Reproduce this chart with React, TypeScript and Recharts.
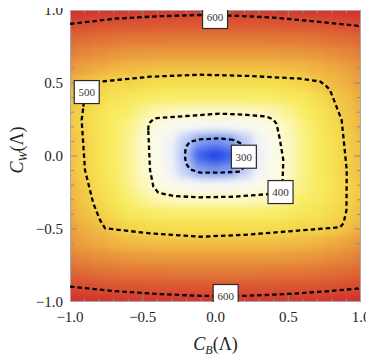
import React from 'react';
import { ScatterChart, Scatter, XAxis, YAxis } from 'recharts';

// Grid of the density field (x across, y down from +1 to -1)
const GRID_X = [-1, -0.9, -0.8, -0.7, -0.6, -0.5, -0.4, -0.3, -0.2, -0.1, 0, 0.1, 0.2, 0.3, 0.4, 0.5, 0.6, 0.7, 0.8, 0.9, 1];
const GRID_Y = [1, 0.9, 0.8, 0.7, 0.6, 0.5, 0.4, 0.3, 0.2, 0.1, 0, -0.1, -0.2, -0.3, -0.4, -0.5, -0.6, -0.7, -0.8, -0.9, -1];

const FIELD: number[][] = [
  [618, 615, 612, 611, 610, 609, 609, 609, 609, 609, 609, 609, 609, 609, 609, 609, 610, 611, 612, 615, 618],
  [597, 593, 591, 589, 588, 588, 587, 587, 587, 587, 587, 587, 587, 587, 587, 588, 588, 589, 591, 593, 597],
  [578, 574, 571, 569, 567, 566, 566, 565, 565, 565, 565, 565, 565, 565, 566, 566, 567, 569, 571, 574, 578],
  [561, 555, 551, 548, 545, 544, 543, 543, 543, 543, 543, 543, 543, 543, 543, 544, 545, 548, 551, 555, 561],
  [546, 538, 532, 527, 523, 521, 520, 519, 519, 519, 519, 519, 519, 519, 520, 521, 523, 527, 532, 538, 546],
  [528, 518, 509, 502, 502, 498, 494, 493, 492, 492, 492, 492, 492, 493, 494, 498, 502, 514, 521, 530, 540],
  [519, 507, 496, 481, 474, 463, 457, 454, 452, 452, 452, 452, 452, 454, 457, 463, 474, 493, 508, 519, 531],
  [515, 502, 485, 464, 451, 433, 420, 413, 410, 409, 409, 409, 410, 413, 420, 433, 451, 476, 497, 514, 527],
  [513, 499, 480, 456, 438, 415, 391, 368, 354, 348, 347, 348, 354, 368, 391, 415, 438, 468, 492, 511, 525],
  [519, 505, 484, 460, 435, 409, 377, 340, 300, 272, 266, 272, 300, 340, 377, 409, 435, 460, 484, 505, 519],
  [519, 505, 484, 460, 435, 409, 376, 336, 290, 240, 222, 240, 290, 336, 376, 409, 435, 460, 484, 505, 519],
  [519, 505, 484, 460, 435, 409, 377, 340, 300, 272, 266, 272, 300, 340, 377, 409, 435, 460, 484, 505, 519],
  [525, 511, 492, 468, 438, 415, 391, 368, 354, 348, 347, 348, 354, 368, 391, 415, 438, 456, 480, 499, 513],
  [527, 514, 497, 476, 451, 433, 420, 413, 410, 409, 409, 409, 410, 413, 420, 433, 451, 464, 485, 502, 515],
  [531, 519, 508, 493, 474, 463, 457, 454, 452, 452, 452, 452, 452, 454, 457, 463, 474, 481, 496, 507, 519],
  [540, 530, 521, 514, 502, 498, 494, 493, 492, 492, 492, 492, 492, 493, 494, 498, 502, 502, 509, 518, 528],
  [546, 538, 532, 527, 523, 521, 520, 519, 519, 519, 519, 519, 519, 519, 520, 521, 523, 527, 532, 538, 546],
  [561, 555, 551, 548, 545, 544, 543, 543, 543, 543, 543, 543, 543, 543, 543, 544, 545, 548, 551, 555, 561],
  [578, 574, 571, 569, 567, 566, 566, 565, 565, 565, 565, 565, 565, 565, 566, 566, 567, 569, 571, 574, 578],
  [597, 593, 591, 589, 588, 588, 587, 587, 587, 587, 587, 587, 587, 587, 587, 588, 588, 589, 591, 593, 597],
  [618, 615, 612, 611, 610, 609, 609, 609, 609, 609, 609, 609, 609, 609, 609, 609, 610, 611, 612, 615, 618],
];

// Contour lines
const CONTOUR_600_TOP = [
  { x: -1, y: 0.904 }, { x: -0.7, y: 0.94 }, { x: -0.4, y: 0.957 }, { x: -0.1, y: 0.966 },
  { x: 0.1, y: 0.962 }, { x: 0.4, y: 0.948 }, { x: 0.7, y: 0.92 }, { x: 1, y: 0.89 },
];
const CONTOUR_600_BOTTOM = [
  { x: -1, y: -0.895 }, { x: -0.7, y: -0.925 }, { x: -0.4, y: -0.945 }, { x: -0.1, y: -0.958 },
  { x: 0.2, y: -0.958 }, { x: 0.5, y: -0.945 }, { x: 0.75, y: -0.928 }, { x: 1, y: -0.906 },
];
const CONTOUR_500 = [
  { x: -0.908, y: 0.338 }, { x: -0.9, y: 0.45 }, { x: -0.85, y: 0.5 }, { x: -0.794, y: 0.509 },
  { x: -0.45, y: 0.543 }, { x: -0.107, y: 0.557 }, { x: 0.237, y: 0.548 }, { x: 0.581, y: 0.53 },
  { x: 0.72, y: 0.51 }, { x: 0.76, y: 0.48 }, { x: 0.787, y: 0.452 }, { x: 0.867, y: 0.247 },
  { x: 0.902, y: -0.096 }, { x: 0.9, y: -0.37 }, { x: 0.88, y: -0.46 }, { x: 0.856, y: -0.488 },
  { x: 0.581, y: -0.51 }, { x: 0.2, y: -0.54 }, { x: -0.107, y: -0.553 }, { x: -0.45, y: -0.53 },
  { x: -0.759, y: -0.495 }, { x: -0.794, y: -0.438 }, { x: -0.84, y: -0.324 }, { x: -0.897, y: -0.096 },
  { x: -0.92, y: 0.247 }, { x: -0.908, y: 0.338 },
];
const CONTOUR_400 = [
  { x: -0.462, y: 0.178 }, { x: -0.46, y: 0.22 }, { x: -0.427, y: 0.252 }, { x: -0.404, y: 0.26 },
  { x: -0.198, y: 0.274 }, { x: 0.03, y: 0.29 }, { x: 0.2, y: 0.283 }, { x: 0.352, y: 0.27 },
  { x: 0.397, y: 0.25 }, { x: 0.42, y: 0.22 }, { x: 0.443, y: 0.11 }, { x: 0.466, y: -0.027 },
  { x: 0.462, y: -0.142 }, { x: 0.46, y: -0.2 }, { x: 0.43, y: -0.25 }, { x: 0.351, y: -0.262 },
  { x: 0.122, y: -0.279 }, { x: -0.107, y: -0.283 }, { x: -0.29, y: -0.274 }, { x: -0.393, y: -0.251 },
  { x: -0.427, y: -0.21 }, { x: -0.45, y: -0.096 }, { x: -0.462, y: 0.178 },
];
const CONTOUR_300 = [
  { x: 0.122, y: 0.11 }, { x: 0.031, y: 0.121 }, { x: -0.107, y: 0.114 }, { x: -0.175, y: 0.098 },
  { x: -0.205, y: 0.06 }, { x: -0.21, y: 0.0 }, { x: -0.203, y: -0.05 }, { x: -0.175, y: -0.091 },
  { x: -0.107, y: -0.114 }, { x: 0.031, y: -0.114 }, { x: 0.168, y: -0.107 }, { x: 0.21, y: -0.06 },
  { x: 0.22, y: 0.02 }, { x: 0.19, y: 0.08 }, { x: 0.122, y: 0.11 },
];
const CONTOUR_LABELS = [
  { x: -0.003, y: 0.952, text: '600' },
  { x: 0.07, y: -0.959, text: '600' },
  { x: -0.885, y: 0.438, text: '500' },
  { x: 0.447, y: -0.247, text: '400' },
  { x: 0.195, y: -0.005, text: '300' },
];

const AXIS_TICKS = [-1, -0.5, 0, 0.5, 1];
const FRAME_TICKS = [-1, -0.9, -0.8, -0.7, -0.6, -0.5, -0.4, -0.3, -0.2, -0.1, 0, 0.1, 0.2, 0.3, 0.4, 0.5, 0.6, 0.7, 0.8, 0.9, 1];
const FRAME_CORNERS = [{ x: -1, y: -1 }, { x: 1, y: -1 }, { x: 1, y: 1 }, { x: -1, y: 1 }, { x: -1, y: -1 }];

// Colour scale (value -> colour)
const COLOR_STOPS: [number, string][] = [
  [225, '#2244e6'], [250, '#4a6fec'], [280, '#98aef3'], [320, '#e0e7f8'], [350, '#f8f8f6'],
  [380, '#fcfbea'], [400, '#fdfad8'], [425, '#fbf5a5'], [450, '#f9ee68'], [490, '#f6e050'],
  [510, '#f3cc47'], [530, '#eeae41'], [555, '#e6883a'], [580, '#dd6234'], [605, '#d53a2f'], [625, '#d1262d'],
];

function hexToRgb(h: string) {
  return [parseInt(h.slice(1, 3), 16), parseInt(h.slice(3, 5), 16), parseInt(h.slice(5, 7), 16)];
}
function colorFor(v: number) {
  if (v <= COLOR_STOPS[0][0]) return COLOR_STOPS[0][1];
  for (let i = 1; i < COLOR_STOPS.length; i++) {
    const [v1, c1] = COLOR_STOPS[i];
    if (v <= v1) {
      const [v0, c0] = COLOR_STOPS[i - 1];
      const t = (v - v0) / (v1 - v0);
      const a = hexToRgb(c0), b = hexToRgb(c1);
      const m = a.map((q, k) => Math.round(q + (b[k] - q) * t));
      return `rgb(${m[0]},${m[1]},${m[2]})`;
    }
  }
  return COLOR_STOPS[COLOR_STOPS.length - 1][1];
}

const W = 366;
const H = 356;
const MARGIN = { top: 10, right: 13, left: 0, bottom: 0 };
const Y_AXIS_W = 62;
const X_AXIS_H = 54;
const PLOT_W = W - MARGIN.right - Y_AXIS_W;
const PLOT_H = H - MARGIN.top - X_AXIS_H;
const CW = PLOT_W / 20;
const CH = PLOT_H / 20;
const EXT = 16;
const SERIF = '"Liberation Serif", "Times New Roman", serif';

const heatData = GRID_Y.flatMap((y, i) => GRID_X.map((x, j) => ({ x, y, v: FIELD[i][j] })));

const tickData = FRAME_TICKS.flatMap((t) => {
  const major = Math.abs(t * 2 - Math.round(t * 2)) < 1e-6;
  return [
    { x: t, y: -1, side: 'b', major },
    { x: t, y: 1, side: 't', major },
    { x: -1, y: t, side: 'l', major },
    { x: 1, y: t, side: 'r', major },
  ];
});

function HeatCell(props: any) {
  const { cx, cy, payload } = props;
  if (cx == null || cy == null) return <g />;
  let x0 = cx - CW / 2 - 0.6;
  let x1 = cx + CW / 2 + 0.6;
  let y0 = cy - CH / 2 - 0.6;
  let y1 = cy + CH / 2 + 0.6;
  if (payload.x <= -1) x0 -= EXT;
  if (payload.x >= 1) x1 += EXT;
  if (payload.y >= 1) y0 -= EXT;
  if (payload.y <= -1) y1 += EXT;
  return <rect x={x0} y={y0} width={x1 - x0} height={y1 - y0} fill={colorFor(payload.v)} />;
}

function TickMark(props: any) {
  const { cx, cy, payload } = props;
  if (cx == null || cy == null) return <g />;
  const len = payload.major ? 7 : 4;
  let x2 = cx, y2 = cy;
  if (payload.side === 'b') y2 = cy - len;
  if (payload.side === 't') y2 = cy + len;
  if (payload.side === 'l') x2 = cx + len;
  if (payload.side === 'r') x2 = cx - len;
  return <line x1={cx} y1={cy} x2={x2} y2={y2} stroke="#8c8c8c" strokeWidth={1} />;
}

function LabelBox(props: any) {
  const { cx, cy, payload } = props;
  if (cx == null || cy == null) return <g />;
  const bw = 25, bh = 23;
  return (
    <g>
      <rect x={cx - bw / 2} y={cy - bh / 2} width={bw} height={bh} fill="#fff" stroke="#2a2a2a" strokeWidth={1.2} />
      <text x={cx} y={cy + 3.8} textAnchor="middle" fontSize={11} fontFamily={SERIF} fill="#333">
        {payload.text}
      </text>
    </g>
  );
}

const Nothing = () => <g />;

const fmt = (v: number) => (v < 0 ? '\u2212' : '') + Math.abs(v).toFixed(1);

function XTick(props: any) {
  const { x, y, payload } = props;
  return (
    <text x={x} y={y + 10.7} textAnchor="middle" fontSize={15} fontFamily={SERIF} fill="#222">
      {fmt(payload.value)}
    </text>
  );
}

function YTick(props: any) {
  const { x, y, payload } = props;
  return (
    <text x={x} y={y + 5} textAnchor="end" fontSize={15} fontFamily={SERIF} fill="#222">
      {fmt(payload.value)}
    </text>
  );
}

const XTitle = (props: any) => {
  const vb = props.viewBox || { x: 62, y: 302, width: 291, height: 54 };
  return (
    <text x={vb.x + vb.width / 2} y={vb.y + 48} textAnchor="middle" fontSize={18} fontFamily={SERIF} fill="#222">
      <tspan fontStyle="italic">C</tspan>
      <tspan fontStyle="italic" fontSize={12} dy={4}>B</tspan>
      <tspan dy={-4}>(Λ)</tspan>
    </text>
  );
};

const YTitle = (props: any) => {
  const vb = props.viewBox || { x: 0, y: 10, width: 62, height: 292 };
  const x = 15;
  const y = vb.y + vb.height / 2 - 6;
  return (
    <text x={x} y={y} transform={`rotate(-90, ${x}, ${y})`} textAnchor="middle" fontSize={18} fontFamily={SERIF} fill="#222">
      <tspan fontStyle="italic">C</tspan>
      <tspan fontStyle="italic" fontSize={12} dy={4}>W</tspan>
      <tspan dy={-4}>(Λ)</tspan>
    </text>
  );
};

const contourLine = { stroke: '#000', strokeWidth: 2.3, strokeDasharray: '4.5 3', fill: 'none' };

export default function App() {
  return (
    <div style={{ position: 'relative', width: W, height: H, marginTop: -8 }}>
      <style>{`.heat-blur { filter: url(#heatBlur); }`}</style>
      <svg width={0} height={0} style={{ position: 'absolute' }}>
        <defs>
          <filter id="heatBlur" x="-10%" y="-10%" width="120%" height="120%" colorInterpolationFilters="sRGB">
            <feGaussianBlur stdDeviation={4.5} />
          </filter>
        </defs>
      </svg>
      <ScatterChart width={W} height={H} margin={MARGIN}>
        <XAxis
          type="number"
          dataKey="x"
          domain={[-1, 1]}
          ticks={AXIS_TICKS}
          allowDataOverflow
          axisLine={false}
          tickLine={false}
          tickSize={0}
          tickMargin={9}
          height={X_AXIS_H}
          interval={0}
          tick={XTick}
          label={{ content: XTitle }}
        />
        <YAxis
          type="number"
          dataKey="y"
          domain={[-1, 1]}
          ticks={AXIS_TICKS}
          allowDataOverflow
          axisLine={false}
          tickLine={false}
          tickSize={0}
          tickMargin={7}
          width={Y_AXIS_W}
          interval={0}
          tick={YTick}
          label={{ content: YTitle }}
        />
        <Scatter className="heat-blur" data={heatData} shape={HeatCell} isAnimationActive={false} legendType="none" />
        <Scatter data={tickData} shape={TickMark} isAnimationActive={false} legendType="none" />
        <Scatter data={FRAME_CORNERS} shape={Nothing} line={{ stroke: '#a8a8a8', strokeWidth: 2, fill: 'none' }} isAnimationActive={false} legendType="none" />
        <Scatter data={CONTOUR_600_TOP} shape={Nothing} line={contourLine} isAnimationActive={false} legendType="none" />
        <Scatter data={CONTOUR_600_BOTTOM} shape={Nothing} line={contourLine} isAnimationActive={false} legendType="none" />
        <Scatter data={CONTOUR_500} shape={Nothing} line={contourLine} isAnimationActive={false} legendType="none" />
        <Scatter data={CONTOUR_400} shape={Nothing} line={contourLine} isAnimationActive={false} legendType="none" />
        <Scatter data={CONTOUR_300} shape={Nothing} line={contourLine} isAnimationActive={false} legendType="none" />
        <Scatter data={CONTOUR_LABELS} shape={LabelBox} isAnimationActive={false} legendType="none" />
      </ScatterChart>
    </div>
  );
}
